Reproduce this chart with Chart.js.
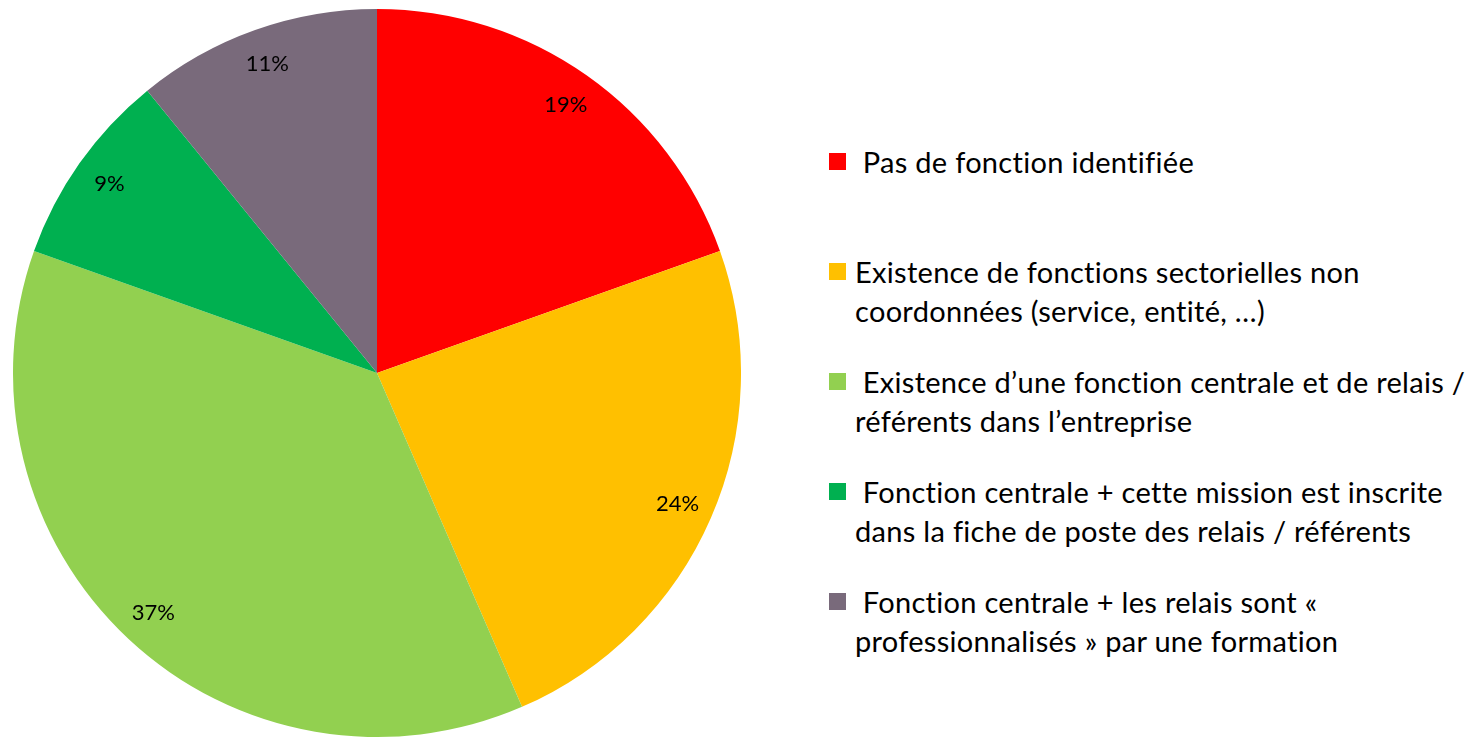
<!DOCTYPE html>
<html>
<head>
<meta charset="utf-8">
<script src="https://cdn.jsdelivr.net/npm/chart.js@4/dist/chart.umd.min.js"></script>
<style>
  body { margin: 0; background: #fff; width: 1480px; height: 737px; overflow: hidden; position: relative; font-family: Lato, "Open Sans", sans-serif; }
  #pieBox { position: absolute; left: 13px; top: 9px; width: 728px; height: 728px; }
  #legend { position: absolute; left: 829px; top: 142px; }
  .item { position: relative; height: 110px; }
  .swatch { position: absolute; left: 0; top: 11px; width: 17px; height: 17px; }
  .txt { position: absolute; left: 26px; top: 0; font-size: 29px; letter-spacing: 0.3px; line-height: 39px; color: #000; white-space: pre; }
</style>
</head>
<body>
<div id="pieBox"><canvas id="pieChart"></canvas></div>
<div id="legend"></div>
<script>
const categories = [
    [' Pas de fonction identifiée'],
    ['Existence de fonctions sectorielles non', 'coordonnées (service, entité, …)'],
    [' Existence d\u2019une fonction centrale et de relais /', 'référents dans l\u2019entreprise'],
    [' Fonction centrale + cette mission est inscrite', 'dans la fiche de poste des relais / référents'],
    [' Fonction centrale + les relais sont «', 'professionnalisés » par une formation']
];
const counts = [9, 11, 17, 4, 5];
const percentLabels = ['19%', '24%', '37%', '9%', '11%'];
const colors = ['#FF0000', '#FFC000', '#92D050', '#00B050', '#796A7B'];

// legend built from the arrays
const legendDiv = document.getElementById('legend');
categories.forEach((lines, i) => {
    const item = document.createElement('div');
    item.className = 'item';
    item.innerHTML = '<div class="swatch" style="background:' + colors[i] + '"></div>' +
        '<div class="txt">' + lines.join('\n') + '</div>';
    legendDiv.appendChild(item);
});

const sliceLabels = {
    id: 'sliceLabels',
    afterDatasetsDraw(chart) {
        const ctx = chart.ctx;
        const meta = chart.getDatasetMeta(0);
        ctx.save();
        ctx.font = '22px Lato, "Open Sans", sans-serif';
        ctx.fillStyle = '#000';
        ctx.textAlign = 'center';
        ctx.textBaseline = 'middle';
        meta.data.forEach((arc, i) => {
            const p = arc.getProps(['x', 'y', 'startAngle', 'endAngle', 'outerRadius'], true);
            const mid = (p.startAngle + p.endAngle) / 2;
            const r = p.outerRadius * 0.9;
            ctx.fillText(percentLabels[i], p.x + Math.cos(mid) * r, p.y + Math.sin(mid) * r);
        });
        ctx.restore();
    }
};

const pieChart = new Chart(document.getElementById('pieChart').getContext('2d'), {
    type: 'pie',
    data: {
        labels: categories.map(l => l.join(' ').trim()),
        datasets: [{
            data: counts,
            backgroundColor: colors,
            borderWidth: 0
        }]
    },
    options: {
        responsive: true,
        maintainAspectRatio: false,
        animation: false,
        layout: { padding: 0 },
        plugins: {
            legend: { display: false },
            tooltip: { enabled: false }
        }
    },
    plugins: [sliceLabels]
});
</script>
</body>
</html>
